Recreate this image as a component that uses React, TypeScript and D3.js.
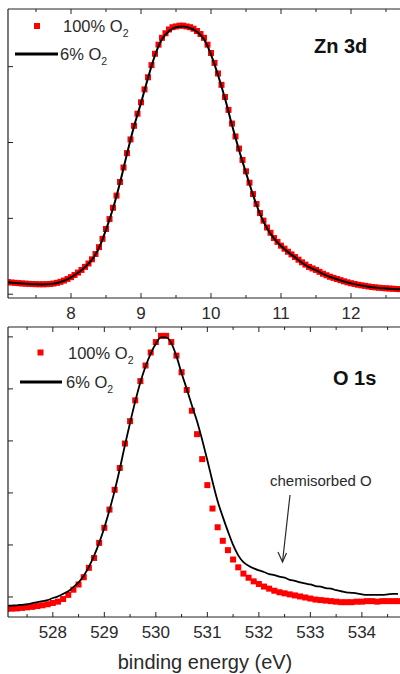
import React from 'react';
import * as d3 from 'd3';

const W = 400;
const H = 674;
const FONT = '"Liberation Sans", Arial, sans-serif';
const AXIS = '#222';
const TXT = '#2a2a2a';

// ---------- Zn 3d panel ----------
const ZN_START = 7.1;
const ZN_RED_STEP = 0.05;
const ZN_LINE_STEP = 0.1;
const znRed = [
  0.159, 0.154, 0.150, 0.146, 0.142, 0.139, 0.136, 0.134, 0.132, 0.131,
  0.131, 0.132, 0.135, 0.141, 0.150, 0.163, 0.180, 0.201,
  0.225, 0.253, 0.285, 0.320, 0.360, 0.405, 0.460, 0.530, 0.620, 0.730,
  0.860, 0.990, 1.140, 1.300, 1.480, 1.670, 1.860, 2.040, 2.220, 2.380,
  2.530, 2.700, 2.860, 3.020, 3.170, 3.290, 3.380, 3.440, 3.490, 3.520,
  3.530, 3.540, 3.540, 3.530, 3.520, 3.500, 3.470, 3.430, 3.380, 3.290,
  3.180, 3.050, 2.910, 2.760, 2.600, 2.430, 2.250, 2.080, 1.920, 1.770,
  1.620, 1.470, 1.320, 1.190, 1.070, 0.970, 0.880, 0.810, 0.740, 0.690,
  0.640, 0.600, 0.560, 0.525, 0.490, 0.455, 0.420, 0.390, 0.360, 0.340,
  0.320, 0.295, 0.270, 0.250, 0.230, 0.215, 0.200, 0.185, 0.170, 0.157,
  0.145, 0.135, 0.125, 0.117, 0.110, 0.102, 0.095, 0.090, 0.085, 0.081,
  0.078, 0.075, 0.072, 0.069, 0.066,
];
const znBlack = [
  0.155, 0.147, 0.140, 0.134, 0.130, 0.129, 0.133, 0.148, 0.178,
  0.222, 0.282, 0.357, 0.455, 0.610, 0.850, 1.130, 1.470, 1.850, 2.210,
  2.520, 2.850, 3.150, 3.360, 3.470, 3.520, 3.530, 3.510, 3.460, 3.360,
  3.160, 2.890, 2.580, 2.230, 1.900, 1.600, 1.310, 1.060, 0.870, 0.735,
  0.635, 0.555, 0.485, 0.415, 0.357, 0.317, 0.267, 0.228, 0.197, 0.168,
  0.143, 0.123, 0.108, 0.093, 0.083, 0.076, 0.070, 0.064,
];
const znXTicks = [8, 9, 10, 11, 12];
const znXMinor = [7.5, 8.5, 9.5, 10.5, 11.5, 12.5];
const znYTicks = [0, 1, 2, 3];

// ---------- O 1s panel ----------
const O_START = 527.1;
const O_STEP = 0.1;
const oRed = [
  -0.230, -0.225, -0.220, -0.210, -0.200, -0.190, -0.175, -0.160, -0.140,
  -0.115, -0.090, -0.040, 0.040, 0.140, 0.240, 0.380, 0.560, 0.750, 1.040,
  1.330, 1.680, 2.060, 2.480, 2.950, 3.380, 3.780, 4.150, 4.450, 4.700,
  4.900, 5.020, 5.020, 4.900, 4.640, 4.320, 3.980, 3.580, 3.130, 2.650,
  2.150, 1.700, 1.340, 1.080, 0.900, 0.720, 0.570, 0.450, 0.370, 0.300,
  0.250, 0.200, 0.160, 0.120, 0.090, 0.070, 0.050, 0.030, 0.010, -0.010,
  -0.030, -0.050, -0.060, -0.070, -0.080, -0.090, -0.100, -0.100, -0.100, -0.090,
  -0.090, -0.080, -0.080, -0.090, -0.080, -0.080, -0.080, -0.080,
];
const oBlack = [
  -0.170, -0.165, -0.160, -0.150, -0.140, -0.120, -0.100, -0.080, -0.060,
  -0.020, 0.010, 0.060, 0.110, 0.190, 0.280, 0.410, 0.580, 0.790, 1.040,
  1.330, 1.670, 2.040, 2.460, 2.920, 3.350, 3.760, 4.130, 4.430, 4.680,
  4.870, 4.990, 4.990, 4.880, 4.630, 4.300, 4.000, 3.680, 3.380, 3.020,
  2.630, 2.220, 1.840, 1.540, 1.260, 1.000, 0.800, 0.670, 0.600, 0.550,
  0.510, 0.480, 0.440, 0.420, 0.390, 0.370, 0.330, 0.310, 0.280, 0.260,
  0.240, 0.210, 0.200, 0.170, 0.160, 0.130, 0.110, 0.090, 0.080, 0.070,
  0.050, 0.040, 0.040, 0.040, 0.040, 0.050, 0.060, 0.060,
];
const oXTicks = [528, 529, 530, 531, 532, 533, 534];
const oXMinor = [527.5, 528.5, 529.5, 530.5, 531.5, 532.5, 533.5, 534.5];
const oYTicks = [0, 1, 2, 3, 4, 5];

const legendRed = '100% O';
const legendBlack = '6% O';
const xLabel = 'binding energy (eV)';

type PanelProps = {
  id: string;
  top: number;
  bottom: number;
  xDomain: [number, number];
  yDomain: [number, number];
  red: number[];
  redStart: number;
  redStep: number;
  black: number[];
  blackStart: number;
  blackStep: number;
  xTicks: number[];
  xMinor: number[];
  yTicks: number[];
  sq: number;
  lineW: number;
  title: string;
  titleX: number;
  titleY: number;
  legRedY: number;
  legRedX: number;
  legBlackY: number;
  legLineX0: number;
  legLineX1: number;
  legTextX: number;
  legTextX2: number;
};

function Panel(p: PanelProps) {
  const left = 8;
  const right = 400;
  const x = d3.scaleLinear().domain(p.xDomain).range([left, right]);
  const y = d3.scaleLinear().domain(p.yDomain).range([p.bottom, p.top]);
  const redPts = p.red.map((v, i) => [p.redStart + i * p.redStep, v] as [number, number]);
  const blackPts = p.black.map((v, i) => [p.blackStart + i * p.blackStep, v] as [number, number]);
  const line = d3
    .line<[number, number]>()
    .x((d) => x(d[0]))
    .y((d) => y(d[1]))
    .curve(d3.curveMonotoneX);
  const clip = `clip-${p.id}`;
  return (
    <g>
      <defs>
        <clipPath id={clip}>
          <rect x={left} y={p.top} width={right - left + 10} height={p.bottom - p.top} />
        </clipPath>
      </defs>
      <g clipPath={`url(#${clip})`}>
        {redPts.map((d, i) => (
          <rect
            key={i}
            x={x(d[0]) - p.sq / 2}
            y={y(d[1]) - p.sq / 2}
            width={p.sq}
            height={p.sq}
            fill="#ff0000"
          />
        ))}
        <path d={line(blackPts) || ''} fill="none" stroke="#000" strokeWidth={p.lineW} />
      </g>
      {/* frame */}
      <line x1={left} x2={right + 5} y1={p.top} y2={p.top} stroke={AXIS} strokeWidth={1.2} />
      <line x1={left} x2={right + 5} y1={p.bottom} y2={p.bottom} stroke={AXIS} strokeWidth={1.2} />
      <line x1={left} x2={left} y1={p.top} y2={p.bottom} stroke={AXIS} strokeWidth={1.2} />
      {/* x ticks */}
      {p.xTicks.map((t) => (
        <g key={'t' + t}>
          <line x1={x(t)} x2={x(t)} y1={p.bottom} y2={p.bottom - 5} stroke={AXIS} strokeWidth={1} />
          <line x1={x(t)} x2={x(t)} y1={p.top} y2={p.top + 5} stroke={AXIS} strokeWidth={1} />
          <text
            x={x(t)}
            y={p.bottom + 21}
            textAnchor="middle"
            fontFamily={FONT}
            fontSize={17}
            fill={TXT}
          >
            {t}
          </text>
        </g>
      ))}
      {p.xMinor.map((t) => (
        <g key={'m' + t}>
          <line x1={x(t)} x2={x(t)} y1={p.bottom} y2={p.bottom - 3} stroke={AXIS} strokeWidth={1} />
          <line x1={x(t)} x2={x(t)} y1={p.top} y2={p.top + 3} stroke={AXIS} strokeWidth={1} />
        </g>
      ))}
      {p.yTicks.map((t) => (
        <line key={'y' + t} x1={left} x2={left + 5} y1={y(t)} y2={y(t)} stroke={AXIS} strokeWidth={1} />
      ))}
      {/* legend */}
      <rect x={p.legRedX - 3} y={p.legRedY - 3} width={6} height={6} fill="#ff0000" />
      <text x={p.legTextX} y={p.legRedY + 6} fontFamily={FONT} fontSize={16.5} fill={TXT}>
        {legendRed}
        <tspan fontSize={10.5} dy={5}>2</tspan>
      </text>
      <line x1={p.legLineX0} x2={p.legLineX1} y1={p.legBlackY} y2={p.legBlackY} stroke="#000" strokeWidth={3} />
      <text x={p.legTextX2} y={p.legBlackY + 6} fontFamily={FONT} fontSize={16.5} fill={TXT}>
        {legendBlack}
        <tspan fontSize={10.5} dy={5}>2</tspan>
      </text>
      <text x={p.titleX} y={p.titleY} fontFamily={FONT} fontWeight="bold" fontSize={20} fill="#111">
        {p.title}
      </text>
    </g>
  );
}

export default function App() {
  return (
    <svg
      width={W}
      height={H}
      viewBox={`0 0 ${W} ${H}`}
      style={{ position: 'absolute', left: 0, top: 0, display: 'block', background: '#fff' }}
    >
      <rect x={0} y={0} width={W} height={H} fill="#fff" />
      <Panel
        id="zn"
        top={9}
        bottom={298}
        xDomain={[7.1, 12.7]}
        yDomain={[-0.05, 3.76]}
        red={znRed}
        redStart={ZN_START}
        redStep={ZN_RED_STEP}
        black={znBlack}
        blackStart={ZN_START}
        blackStep={ZN_LINE_STEP}
        xTicks={znXTicks}
        xMinor={znXMinor}
        yTicks={znYTicks}
        sq={6}
        lineW={2}
        title="Zn 3d"
        titleX={314}
        titleY={53}
        legRedX={37}
        legRedY={26}
        legBlackY={54}
        legLineX0={15}
        legLineX1={58}
        legTextX={63}
        legTextX2={60}
      />
      <Panel
        id="o"
        top={327}
        bottom={617}
        xDomain={[527.13, 534.74]}
        yDomain={[-0.385, 5.19]}
        red={oRed}
        redStart={O_START}
        redStep={O_STEP}
        black={oBlack}
        blackStart={O_START}
        blackStep={O_STEP}
        xTicks={oXTicks}
        xMinor={oXMinor}
        yTicks={oYTicks}
        sq={6}
        lineW={1.8}
        title="O 1s"
        titleX={333}
        titleY={385}
        legRedX={40.5}
        legRedY={352.5}
        legBlackY={382}
        legLineX0={20}
        legLineX1={62}
        legTextX={68}
        legTextX2={66}
      />
      {/* annotation */}
      <text x={270} y={486} fontFamily={FONT} fontSize={15} fill={TXT}>
        chemisorbed O
      </text>
      <line x1={290} y1={495} x2={282.5} y2={562} stroke={TXT} strokeWidth={1.2} />
      <polyline
        points="278,552 282.5,562 286.5,553"
        fill="none"
        stroke={TXT}
        strokeWidth={1.2}
      />
      <text x={205} y={669} textAnchor="middle" fontFamily={FONT} fontSize={20} fill={TXT}>
        {xLabel}
      </text>
    </svg>
  );
}
